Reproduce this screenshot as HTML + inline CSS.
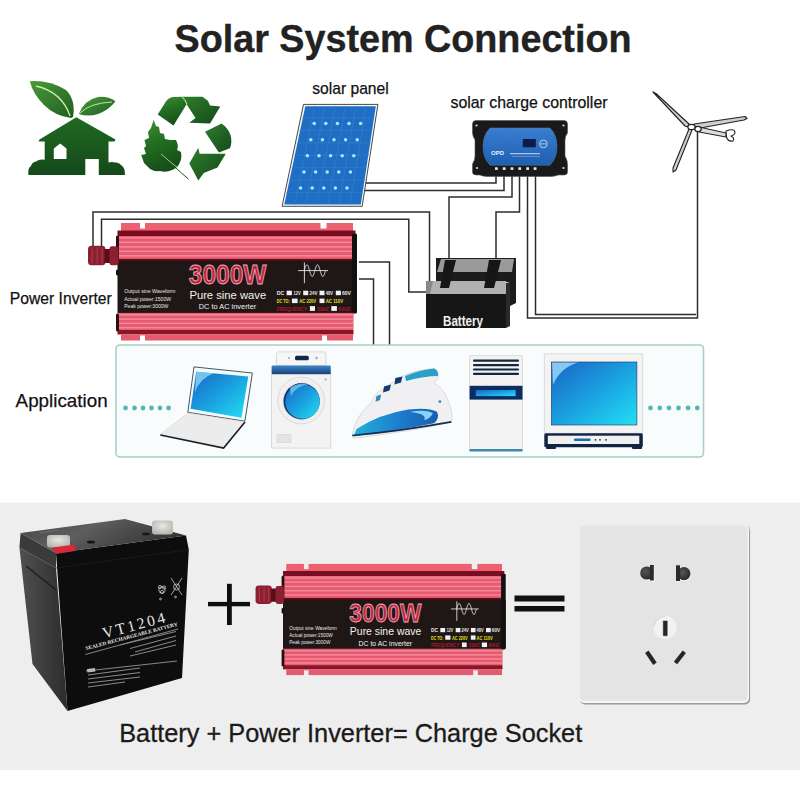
<!DOCTYPE html>
<html><head><meta charset="utf-8">
<style>
html,body{margin:0;padding:0;width:800px;height:800px;overflow:hidden;background:#ffffff;}
svg{display:block;}
text{font-family:"Liberation Sans",sans-serif;}
</style></head>
<body>
<svg width="800" height="800" viewBox="0 0 800 800">
<defs>
  <linearGradient id="ridge" x1="0" y1="0" x2="0" y2="1">
    <stop offset="0" stop-color="#f06a7c"/><stop offset="1" stop-color="#e85a6e"/>
  </linearGradient>
  <g id="inv">
    <rect x="3.5" y="1.5" width="232" height="8" fill="#ec6070"/>
    <rect x="22.5" y="0" width="5" height="7" style="fill:var(--bg)"/>
    <rect x="203" y="0" width="6" height="7" style="fill:var(--bg)"/>
    <rect x="0" y="9" width="238" height="5.5" fill="#7a0c22"/>
    <rect x="0" y="14.5" width="236" height="23.5" fill="#e55a6e"/>
    <rect x="0" y="15.50" width="236" height="1.6" fill="#f58898"/><rect x="0" y="20.00" width="236" height="1.6" fill="#f58898"/><rect x="0" y="24.50" width="236" height="1.6" fill="#f58898"/><rect x="0" y="29.00" width="236" height="1.6" fill="#f58898"/><rect x="0" y="33.50" width="236" height="1.6" fill="#f58898"/>
    <rect x="0" y="37.5" width="238" height="2.5" fill="#5a0a18"/>
    <rect x="0" y="39.5" width="239.5" height="51" fill="#1e1715"/>
    <rect x="234.5" y="12" width="5" height="80" rx="1.5" fill="#141010"/>
    <rect x="-1.5" y="48" width="3" height="6" rx="1.5" fill="#141010"/>
    <rect x="0" y="90.5" width="236" height="1.5" fill="#5a0a18"/>
    <rect x="0" y="92" width="236" height="16.5" fill="#e55a6e"/>
    <rect x="0" y="92.50" width="236" height="1.6" fill="#f58898"/><rect x="0" y="96.80" width="236" height="1.6" fill="#f58898"/><rect x="0" y="101.10" width="236" height="1.6" fill="#f58898"/><rect x="0" y="105.40" width="236" height="1.6" fill="#f58898"/>
    <rect x="0" y="108.5" width="236" height="4.5" fill="#8a1428"/>
    <rect x="3.5" y="113" width="232" height="6" fill="#e55a6e"/>
    <rect x="22.5" y="114" width="5" height="6" style="fill:var(--bg)"/>
    <rect x="204.5" y="114" width="5" height="6" style="fill:var(--bg)"/>
    <rect x="-1.5" y="14" width="3" height="24" rx="1.5" fill="#2a1010"/>
    <rect x="-1.5" y="92" width="3" height="18" rx="1.5" fill="#2a1010"/>
    <!-- knob -->
    <rect x="-29.5" y="24.3" width="17.5" height="19.5" rx="3.5" fill="#8a2030"/>
    <rect x="-26" y="26" width="1.2" height="16" fill="#a83848"/><rect x="-21" y="26" width="1.2" height="16" fill="#a83848"/><rect x="-16" y="26" width="1.2" height="16" fill="#a83848"/>
    <rect x="-13" y="27.5" width="6" height="14" fill="#5a0c18"/>
    <rect x="-8" y="24.8" width="9" height="19" rx="2.5" fill="#8a2030"/>
    <!-- text -->
    <text x="110.1" y="62.75" font-size="27" font-weight="bold" fill="#b8283f" stroke="#f2a6b6" stroke-width="0.9" text-anchor="middle" textLength="77.5" lengthAdjust="spacingAndGlyphs">3000W</text>
    <text x="110.3" y="77.1" font-size="11" fill="#f2f2f2" text-anchor="middle" textLength="76.8" lengthAdjust="spacingAndGlyphs">Pure sine wave</text>
    <text x="110" y="87.75" font-size="7.8" fill="#f2f2f2" text-anchor="middle" textLength="57.5" lengthAdjust="spacingAndGlyphs">DC to AC inverter</text>
    <g font-size="5.3" fill="#e8e8e8">
    <text x="6.7" y="71.6" textLength="51.2" lengthAdjust="spacingAndGlyphs">Output sine Waveform</text>
    <text x="6.7" y="79.1" textLength="46.8" lengthAdjust="spacingAndGlyphs">Actual power:1500W</text>
    <text x="6.7" y="86.5" textLength="44.2" lengthAdjust="spacingAndGlyphs">Peak power:3000W</text>
    </g>
    <!-- sine symbol -->
    <g stroke="#e8e8e8" stroke-width="0.9" fill="none">
      <line x1="180.6" y1="49.1" x2="210.6" y2="49.1"/>
      <line x1="186.9" y1="41" x2="186.9" y2="61.6"/>
      <polyline points="186.75,49.10 187.01,48.18 187.28,47.28 187.54,46.42 187.81,45.63 188.07,44.93 188.34,44.33 188.60,43.84 188.87,43.49 189.13,43.27 189.40,43.20 189.66,43.27 189.93,43.49 190.19,43.84 190.46,44.33 190.72,44.93 190.99,45.63 191.25,46.42 191.52,47.28 191.78,48.18 192.05,49.10 192.31,50.02 192.58,50.92 192.84,51.78 193.11,52.57 193.38,53.27 193.64,53.87 193.91,54.36 194.17,54.71 194.44,54.93 194.70,55.00 194.97,54.93 195.23,54.71 195.50,54.36 195.76,53.87 196.03,53.27 196.29,52.57 196.56,51.78 196.82,50.92 197.09,50.02 197.35,49.10 197.62,48.18 197.88,47.28 198.15,46.42 198.41,45.63 198.68,44.93 198.94,44.33 199.21,43.84 199.47,43.49 199.74,43.27 200.00,43.20 200.26,43.27 200.53,43.49 200.79,43.84 201.06,44.33 201.32,44.93 201.59,45.63 201.85,46.42 202.12,47.28 202.38,48.18 202.65,49.10 202.91,50.02 203.18,50.92 203.44,51.78 203.71,52.57 203.97,53.27 204.24,53.87 204.50,54.36 204.77,54.71 205.03,54.93 205.30,55.00 205.56,54.93 205.83,54.71 206.09,54.36 206.36,53.87 206.62,53.27 206.89,52.57 207.16,51.78 207.42,50.92 207.69,50.02 207.95,49.10"/>
    </g>
    <g font-size="5" font-weight="bold">
      <text x="159.25" y="73.7" fill="#e8e8e8" textLength="7.5" lengthAdjust="spacingAndGlyphs">DC</text>
      <text x="176.1" y="73.7" fill="#e8e8e8" textLength="7" lengthAdjust="spacingAndGlyphs">12V</text>
      <text x="191.9" y="73.7" fill="#e8e8e8" textLength="8" lengthAdjust="spacingAndGlyphs">24V</text>
      <text x="208.2" y="73.7" fill="#e8e8e8" textLength="7.5" lengthAdjust="spacingAndGlyphs">48V</text>
      <text x="224.5" y="73.7" fill="#e8e8e8" textLength="9" lengthAdjust="spacingAndGlyphs">60V</text>
      <text x="159.25" y="81.6" fill="#e6e020" textLength="13" lengthAdjust="spacingAndGlyphs">DC TO:</text>
      <text x="181.75" y="81.6" fill="#e6e020" textLength="16.8" lengthAdjust="spacingAndGlyphs">AC 220V</text>
      <text x="208.2" y="81.6" fill="#e6e020" textLength="17.4" lengthAdjust="spacingAndGlyphs">AC 110V</text>
      <text x="159.25" y="89.4" fill="#b01828" textLength="30.3" lengthAdjust="spacingAndGlyphs">FREQUENCY</text>
      <text x="199.75" y="89.4" fill="#b01828" textLength="11.8" lengthAdjust="spacingAndGlyphs">50HZ</text>
      <text x="221.1" y="89.4" fill="#b01828" textLength="11.8" lengthAdjust="spacingAndGlyphs">60HZ</text>
    </g>
    <g fill="#f2f2f2">
      <rect x="169.15" y="69.2" width="5.25" height="4.5"/><rect x="185.7" y="69.2" width="5.05" height="4.5"/>
      <rect x="202" y="69.2" width="5" height="4.5"/><rect x="218.3" y="69.2" width="5.1" height="4.5"/>
      <rect x="174.4" y="77.1" width="5.7" height="4.5"/><rect x="202" y="77.1" width="5" height="4.5"/>
      <rect x="192.4" y="84.6" width="5.1" height="4.8"/><rect x="213.8" y="84.6" width="5.6" height="4.8"/>
    </g>
  </g>
</defs>

<!-- bottom gray section -->

<rect x="0" y="770" width="800" height="30" fill="#ffffff"/>
<rect x="0" y="502.5" width="800" height="267.5" fill="#eeeeee"/>

<!-- title -->
<text x="403" y="52" font-size="39" font-weight="bold" fill="#222" stroke="#222" stroke-width="0.4" text-anchor="middle" textLength="457" lengthAdjust="spacingAndGlyphs">Solar System Connection</text>

<!-- labels -->
<text x="350.5" y="94" font-size="16.2" fill="#111" stroke="#111" stroke-width="0.25" text-anchor="middle" textLength="76.5" lengthAdjust="spacingAndGlyphs">solar panel</text>
<text x="529" y="108" font-size="16.2" fill="#111" stroke="#111" stroke-width="0.25" text-anchor="middle" textLength="157" lengthAdjust="spacingAndGlyphs">solar charge controller</text>
<text x="60.8" y="303.5" font-size="16.2" fill="#111" stroke="#111" stroke-width="0.25" text-anchor="middle" textLength="102" lengthAdjust="spacingAndGlyphs">Power Inverter</text>
<text x="61.6" y="407" font-size="19" fill="#111" stroke="#111" stroke-width="0.25" text-anchor="middle" textLength="92" lengthAdjust="spacingAndGlyphs">Application</text>

<!-- wires -->
<g stroke="#2c2c2c" stroke-width="1.5" fill="none">
  <polyline points="363,183 496,183 496,174"/>
  <polyline points="363,190.6 504,190.6 504,174"/>
  <polyline points="449,260 449,197 512,197 512,174"/>
  <polyline points="93,246 93,212 429.5,212 429.5,282"/>
  <polyline points="101.5,246 101.5,219.2 408.8,219.2 408.8,292 430,292"/>
  <polyline points="496,260 496,212 519.5,212 519.5,174"/>
  <polyline points="527.5,174 527.5,318 697.5,318 697.5,131.5"/>
  <polyline points="535.5,174 535.5,314.6 696,314.6"/>
  <polyline points="359,262 389.5,262 389.5,345"/>
  <polyline points="359,279 373.5,279 373.5,345"/>
</g>


<!-- house icon -->
<defs>
  <linearGradient id="gh" x1="0" y1="0" x2="0" y2="1"><stop offset="0" stop-color="#1f6a22"/><stop offset="1" stop-color="#15491a"/></linearGradient>
  <linearGradient id="gl" x1="0" y1="0" x2="1" y2="1"><stop offset="0" stop-color="#4a9a3c"/><stop offset="1" stop-color="#1f5e20"/></linearGradient>
</defs>
<path d="M76.3 117.2 L115.5 139.5 L114.5 141.5 L108.5 141.5 L108.5 162.5 Q112 161.5 115 162.5 Q119 162 121 165 Q125 167 125 175 L28.5 175 Q27.5 168 31 166 Q32 162 36 161.5 Q39 159 44.7 159.8 L44.7 141.5 L38.5 141.5 L39.5 139.5 Z M53.8 148.5 L53.8 159 L66.5 159 L66.5 148.5 L60.2 143.5 Z M85.3 159 L85.3 175 L98.8 175 L98.8 159 Z" fill="url(#gh)" fill-rule="evenodd"/>
<path d="M29.8 81.2 Q50 80 66 90 Q76 100 73 117 L71 118 Q55 116 44 105 Q33 94 29.8 81.2 Z" fill="url(#gl)"/>
<path d="M36 86 Q62 92 70 116" stroke="#c8f0a0" stroke-width="1.3" fill="none"/>
<path d="M79 114 Q84 100 98 97 Q108 96 115.5 101.3 Q109 110 98 114 Q88 117 79 114 Z" fill="url(#gl)"/>
<path d="M80 113 Q90 103 112 102" stroke="#b8e8a0" stroke-width="1" fill="none"/>

<!-- recycle icon -->
<defs>
  <linearGradient id="gr1" x1="0" y1="0" x2="0.3" y2="1"><stop offset="0" stop-color="#3f8f35"/><stop offset="0.5" stop-color="#236e22"/><stop offset="1" stop-color="#174f18"/></linearGradient>
  <linearGradient id="gr2" x1="0" y1="0" x2="1" y2="1"><stop offset="0" stop-color="#2f7f2c"/><stop offset="1" stop-color="#15481a"/></linearGradient>
</defs>
<g>
  <path d="M157.7,114.6 L165.9,101.5 Q168.5,97.6 173,97 L181.8,96.7 L186.6,104.3 L173.5,125.6 Z" fill="url(#gr1)"/>
  <polygon points="181.8,96.7 202.4,96.7 207.9,100.8 210,105.6 220.3,106.5 210,123.5 189.3,122.8 195.5,118 186.6,104.3" fill="url(#gr2)"/>
  <path d="M205,131.8 L221.6,123.5 Q228,128 230.5,135 Q232.5,142 229.9,148.3 L218.9,152.4 Z" fill="url(#gr2)"/>
  <polygon points="189.3,163.6 198.3,147.8 199.6,153.8 225.8,153.8 217.5,167.5 203.8,173 198.3,180.5" fill="url(#gr2)"/>
  <path d="M153.6,120 L156,126 L159,127 L160,133 L164,134 L165,139 L170,140 L176,140 Q179,146 177,150 L181,152 Q182,158 180,162 Q178,168 172,170 Q166,173 160,171 Q152,172 148,167 L144,163 L141.2,155 L146,154 L144,148 L146,146 L144.5,140 L149,138 L148,132 L151,128 Z" fill="url(#gr1)"/>
</g>
<path d="M161 153.8 Q172 165 188.6 179.2" stroke="#1f5a1c" stroke-width="1" fill="none"/>
<path d="M161 153.8 Q170 162 178 168" stroke="#b8e8a0" stroke-width="0.8" fill="none"/>
<path d="M181.8 96.7 Q186 99.5 187 104.3" stroke="#d0f4b8" stroke-width="0.9" fill="none"/>
<path d="M218.9 152.4 L225.8 153.8" stroke="#d0f4b8" stroke-width="0.7" fill="none"/>
<!-- solar panel -->
<polygon points="303.5,104.4 377.9,104.4 362.2,206.3 282.1,206.3" fill="#f4f8fc" stroke="#333" stroke-width="0.9"/>
<polygon points="305.3,106.3 375.8,106.3 360.8,204.5 284.3,204.5" fill="#1f6ec4"/>
<g stroke="#3a86d0" stroke-width="0.5"><line x1="314.8" y1="105.5" x2="294.6" y2="205"/><line x1="325.1" y1="105.5" x2="305.6" y2="205"/><line x1="335.4" y1="105.5" x2="316.7" y2="205"/><line x1="345.6" y1="105.5" x2="327.8" y2="205"/><line x1="355.9" y1="105.5" x2="338.9" y2="205"/><line x1="366.2" y1="105.5" x2="349.9" y2="205"/><line x1="301.9" y1="117.9" x2="374.6" y2="117.9"/><line x1="299.2" y1="130.4" x2="372.6" y2="130.4"/><line x1="296.6" y1="142.8" x2="370.7" y2="142.8"/><line x1="294.0" y1="155.2" x2="368.8" y2="155.2"/><line x1="291.4" y1="167.7" x2="366.8" y2="167.7"/><line x1="288.8" y1="180.1" x2="364.9" y2="180.1"/><line x1="286.1" y1="192.6" x2="362.9" y2="192.6"/></g>
<g fill="#9aeeff"><circle cx="314.2" cy="123.6" r="1.75"/><circle cx="325.8" cy="123.6" r="1.75"/><circle cx="337.4" cy="123.6" r="1.75"/><circle cx="349.0" cy="123.6" r="1.75"/><circle cx="360.6" cy="123.6" r="1.75"/><circle cx="310.8" cy="139.7" r="1.75"/><circle cx="322.4" cy="139.7" r="1.75"/><circle cx="334.0" cy="139.7" r="1.75"/><circle cx="345.6" cy="139.7" r="1.75"/><circle cx="357.2" cy="139.7" r="1.75"/><circle cx="307.4" cy="155.8" r="1.75"/><circle cx="319.0" cy="155.8" r="1.75"/><circle cx="330.6" cy="155.8" r="1.75"/><circle cx="342.2" cy="155.8" r="1.75"/><circle cx="353.8" cy="155.8" r="1.75"/><circle cx="304.0" cy="171.9" r="1.75"/><circle cx="315.6" cy="171.9" r="1.75"/><circle cx="327.2" cy="171.9" r="1.75"/><circle cx="338.8" cy="171.9" r="1.75"/><circle cx="350.4" cy="171.9" r="1.75"/><circle cx="300.6" cy="188.0" r="1.75"/><circle cx="312.2" cy="188.0" r="1.75"/><circle cx="323.8" cy="188.0" r="1.75"/><circle cx="335.4" cy="188.0" r="1.75"/><circle cx="347.0" cy="188.0" r="1.75"/></g>

<!-- controller -->
<path d="M476 120.5 L564 120.5 Q567.5 120.5 567.5 124 L567.5 133 Q565 136 565 140 L565 156 Q567.5 160 567.5 164 L567.5 172 Q567.5 175 564 175 L558 175 Q555 176.5 548 176.5 L490 176.5 Q483 176.5 480 175 L476 175 Q472.5 175 472.5 172 L472.5 164 Q475 160 475 156 L475 140 Q472.5 136 472.5 133 L472.5 124 Q472.5 120.5 476 120.5 Z" fill="#1a1a1c" stroke="#555" stroke-width="0.6"/>
<circle cx="476.5" cy="125.5" r="1.1" fill="#ddd"/><circle cx="563.5" cy="125.5" r="1.1" fill="#ddd"/>
<circle cx="477" cy="168" r="1.1" fill="#ddd"/><circle cx="563.5" cy="168" r="1.1" fill="#ddd"/>
<defs><linearGradient id="cb" x1="0" y1="0" x2="0" y2="1"><stop offset="0" stop-color="#3a7ed0"/><stop offset="1" stop-color="#1d5fb0"/></linearGradient></defs>
<path d="M490 128 L550 128 Q557 135 557 146.6 Q557 158 550 165.2 L490 165.2 Q483 158 483 146.6 Q483 135 490 128 Z" fill="url(#cb)" stroke="#5a7aa0" stroke-width="0.5"/>
<rect x="522.8" y="139" width="13" height="8.3" fill="#0e1c4a"/>
<circle cx="543.4" cy="143.9" r="3.8" fill="none" stroke="#e0e8f0" stroke-width="0.8"/>
<line x1="540.5" y1="143.9" x2="546.3" y2="143.9" stroke="#e0e8f0" stroke-width="0.7"/>
<text x="491" y="155" font-size="6" font-weight="bold" fill="#e8f0ff">OPD</text>
<rect x="510" y="153" width="30" height="1.3" fill="#a8c0e8"/>
<rect x="512" y="156" width="28" height="0.8" fill="#7a9ad0"/>
<g fill="#e8e8e8">
<rect x="495" y="167.3" width="2.8" height="2.6"/><rect x="502.8" y="167.3" width="2.8" height="2.6"/>
<rect x="510.6" y="167.3" width="2.8" height="2.6"/><rect x="518.3" y="167.3" width="2.8" height="2.6"/>
<rect x="526.2" y="167.3" width="2.8" height="2.6"/><rect x="533.7" y="167.3" width="2.8" height="2.6"/>
</g>

<!-- wind turbine -->
<g stroke="#222" stroke-linejoin="round">
  <polygon points="653,92 656,93.5 689,124 688,127 685,126" fill="#cfcfcf" stroke-width="1.1"/>
  <polygon points="694,124 745,116.5 747,118.5 744,120 695,129" fill="#cfcfcf" stroke-width="1.1"/>
  <polygon points="689,129 692,130 676,170 673,172 673,168" fill="#cfcfcf" stroke-width="1.1"/>
  <polygon points="699,127 726,133 726,137 699,132" fill="#ddd" stroke-width="1"/>
  <path d="M726 131 Q734 128 735 132 Q735 135 731 136 Q735 138 733 141 Q728 142 726.5 137 Z" fill="#fff" stroke-width="1.1"/>
  <ellipse cx="691.5" cy="127" rx="3.6" ry="2.7" fill="#fff" stroke-width="1.2"/>
  <ellipse cx="698" cy="129" rx="3.2" ry="2.6" fill="#fff" stroke-width="1.2"/>
</g>

<!-- top battery -->
<polygon points="436,258 516,258 516,303 510,306 510,282 436,282" fill="#1c1c1c"/>
<polygon points="441,259 514,259 512,272 437,272" fill="#9a9a9a"/>
<polygon points="426,294 429,281 506,281 506,294" fill="#b0b0b0"/>
<polygon points="426,294 506,294 506,328 426,328" fill="#161616"/>
<polygon points="506,283 510,282 510,326 506,328" fill="#2a2a2a"/>
<polygon points="426,281 433,281 430,294 426,294" fill="#888"/>
<polygon points="445,260 456,260 449,288 440,288" fill="#161616"/>
<polygon points="489,260 501,260 494,288 484,288" fill="#161616"/>
<text x="463" y="325.5" font-size="14" font-weight="bold" fill="#f0f0f0" text-anchor="middle" textLength="40" lengthAdjust="spacingAndGlyphs">Battery</text>

<!-- top inverter -->
<use href="#inv" transform="translate(117.5,221.5)" style="--bg:#ffffff"/>

<!-- application box -->
<rect x="116" y="345" width="587.5" height="112" rx="4" fill="#f9fcfc" stroke="#a9cfc4" stroke-width="1.6"/>


<!-- application icons -->
<defs>
  <linearGradient id="scr" x1="0" y1="0" x2="1" y2="1"><stop offset="0" stop-color="#1a64c4"/><stop offset="0.5" stop-color="#1aa0e0"/><stop offset="1" stop-color="#22e0f4"/></linearGradient>
  <linearGradient id="lid" x1="0" y1="0" x2="0" y2="1"><stop offset="0" stop-color="#3f86c6"/><stop offset="1" stop-color="#143e78"/></linearGradient>
  <linearGradient id="sole" x1="0" y1="0" x2="1" y2="0"><stop offset="0" stop-color="#22b0d8"/><stop offset="0.6" stop-color="#1c78cc"/><stop offset="1" stop-color="#1a5eb0"/></linearGradient>
</defs>
<g fill="#58b6b2">
  <circle cx="125.5" cy="408" r="2.4"/><circle cx="134.5" cy="408" r="2.4"/><circle cx="143" cy="408" r="2.4"/>
  <circle cx="151.5" cy="408" r="2.4"/><circle cx="160" cy="408" r="2.4"/><circle cx="168.6" cy="408" r="2.4"/>
  <circle cx="650.5" cy="408" r="2.4"/><circle cx="659.8" cy="408" r="2.4"/><circle cx="669" cy="408" r="2.4"/>
  <circle cx="678.5" cy="408" r="2.4"/><circle cx="688" cy="408" r="2.4"/><circle cx="697.3" cy="408" r="2.4"/>
</g>
<!-- laptop -->
<polygon points="194,366.9 252.4,373 244.9,421.2 187.8,412.3" fill="#f2fafc" stroke="#1c2c3c" stroke-width="0.8"/>
<polygon points="196.2,371.7 248.3,376.5 241.4,417.8 190.6,408.8" fill="url(#scr)"/>
<path d="M196.2 371.7 L214 373.3 Q200 378 195 392 Z" fill="#8ad8f4" opacity="0.8"/>
<polygon points="187.8,413 244.9,421.9 223.6,447 160.3,434.5" fill="#ececec" stroke="#ccc" stroke-width="0.5"/>
<polyline points="160.3,435 223.6,448 245,422" fill="none" stroke="#1a1f28" stroke-width="1.6"/>
<!-- washer -->
<rect x="276.4" y="351.9" width="49.5" height="14" rx="2" fill="#f6f6f6" stroke="#cfcfcf" stroke-width="0.8"/>
<rect x="295" y="355.8" width="13.8" height="4.4" rx="1.5" fill="#12284a"/>
<circle cx="289" cy="358" r="1" fill="#9aa"/><circle cx="316.5" cy="358" r="1.2" fill="#9aa"/>
<rect x="271.6" y="365.6" width="59.2" height="9" rx="1" fill="url(#lid)"/>
<rect x="271.6" y="374.6" width="59.2" height="73.5" fill="#f3f3f3" stroke="#d2d2d2" stroke-width="0.8"/>
<circle cx="301.2" cy="400.5" r="23.4" fill="#efefef" stroke="#d6d6d6" stroke-width="0.8"/>
<circle cx="301.6" cy="401.2" r="18.2" fill="#1a3d78"/>
<circle cx="302.6" cy="401.6" r="17.2" fill="url(#scr)"/>
<path d="M290 388 Q298 382 309 384 Q296 386 291 396 Z" fill="#7ad4f4" opacity="0.7"/>
<rect x="277" y="434.4" width="14" height="8.2" fill="#e4e4e4" stroke="#d0d0d0" stroke-width="0.5"/>
<circle cx="325.5" cy="379.5" r="1.2" fill="#bbb"/>
<!-- iron -->
<path d="M352.2 434.8 Q356 415 370.9 403 Q374 396 378 392 L405.4 374.4 Q420 369 434.1 368.6 Q439 370 438.4 377.3 L434.1 383 Q443 388 447 398 Q452.5 410 452.1 418 L451.4 421.8 Q420 430 353.6 438.3 Z" fill="#f0f0f2" stroke="#d4d4d8" stroke-width="0.8"/>
<path d="M356.5 429 Q380 414 408.3 409.6 Q428 407 437 411.8 Q440 418 434.1 423.3 Q400 430 353.6 436.5 Z" fill="url(#sole)"/>
<path d="M410 412 Q425 409 433 413 Q430 419 424 420 Q428 414 410 412 Z" fill="#8ad4f4"/>
<path d="M352.2 435.5 Q400 431 451.4 421.8" fill="none" stroke="#162c50" stroke-width="1.7"/>
<path d="M405 376 Q420 370 434 368.6 Q438.5 370 438 376 Q425 376 406 381 Z" fill="#2aa0c8"/>
<polygon points="395.3,378 402.5,376.5 401,382.5 394.5,384.5" fill="#153a70"/>
<polygon points="384,386.5 391,384.4 389.5,390.5 383,392.5" fill="#153a70"/>
<polygon points="376.5,396 381,394.5 380,400 375.5,401.7" fill="#2a8ab0"/>
<circle cx="439.9" cy="401.7" r="1.4" fill="#3a9090"/>
<!-- AC -->
<rect x="469.6" y="355.6" width="52.9" height="95.5" fill="#f3f3f3" stroke="#d6d6d6" stroke-width="0.8"/>
<g fill="#12283c">
  <rect x="473" y="359.6" width="46" height="2.1" rx="1"/><rect x="473" y="364.1" width="46" height="2.1" rx="1"/>
  <rect x="473" y="368.5" width="46" height="2.1" rx="1"/><rect x="473" y="372.8" width="46" height="2.1" rx="1"/>
</g>
<rect x="469.6" y="385.8" width="52.9" height="13.8" fill="#0e2c62"/>
<rect x="475.8" y="390" width="39.8" height="6.1" fill="url(#scr)"/>
<rect x="469.6" y="449" width="52.9" height="2.4" fill="#3a8aa8"/>
<!-- TV -->
<rect x="544.3" y="353.8" width="98.5" height="79.5" fill="#f3f3f3" stroke="#d4d4d4" stroke-width="0.8"/>
<rect x="551.4" y="362" width="85.5" height="63" fill="url(#scr)" stroke="#1a3460" stroke-width="0.6"/>
<path d="M552 362.6 L578 362.6 Q560 368 553 385 Z" fill="#9ad8f4" opacity="0.85"/>
<rect x="544.3" y="433.3" width="98.5" height="14" rx="1.5" fill="#122444"/>
<rect x="547.8" y="435.7" width="91.5" height="8.3" fill="#f0f0f0"/>
<rect x="574" y="438.6" width="16.6" height="2.4" rx="1" fill="#1a6ab0"/>
<circle cx="595.5" cy="439.8" r="0.9" fill="#1a3060"/><circle cx="600" cy="439.8" r="0.9" fill="#1a3060"/><circle cx="606" cy="439.8" r="0.9" fill="#1a3060"/>
<rect x="546" y="446" width="10" height="3" rx="1" fill="#122444"/><rect x="632" y="446" width="10" height="3" rx="1" fill="#122444"/>


<!-- bottom battery -->
<defs>
  <linearGradient id="btop" x1="0" y1="0" x2="1" y2="0.4"><stop offset="0" stop-color="#454545"/><stop offset="0.45" stop-color="#5e5e5e"/><stop offset="1" stop-color="#333"/></linearGradient>
  <linearGradient id="bleft" x1="0" y1="0" x2="1" y2="0"><stop offset="0" stop-color="#505050"/><stop offset="1" stop-color="#2c2c2c"/></linearGradient>
  <radialGradient id="term" cx="0.5" cy="0.4" r="0.6"><stop offset="0" stop-color="#e8e8e4"/><stop offset="1" stop-color="#b8b8b0"/></radialGradient>
</defs>
<polygon points="19.4,547.5 56,568 67.5,711 32.5,664" fill="url(#bleft)"/>
<polygon points="20.6,533 56,553 56,568 19.4,547.5" fill="#3a3a3a"/>
<line x1="26" y1="566" x2="56" y2="590" stroke="#1a1a1a" stroke-width="1.2"/>
<polygon points="56,553 186,535.5 188.8,549.8 182,678 67.5,711" fill="#0d0d0d"/>
<polygon points="20.6,533 125,519 186,535.5 56,553" fill="url(#btop)"/>
<line x1="56" y1="568" x2="188" y2="549.8" stroke="#1e1e1e" stroke-width="0.8"/>
<!-- terminals -->
<rect x="47" y="535" width="23" height="12.5" rx="3" fill="url(#term)"/>
<polygon points="52.5,547.5 75,544.5 75,551 56,554" fill="#d8283a"/>
<rect x="152" y="520.5" width="21" height="14" rx="3" fill="url(#term)"/>
<ellipse cx="91" cy="542" rx="4" ry="1.5" fill="#151515"/>
<ellipse cx="146" cy="534" rx="4" ry="1.3" fill="#151515"/>
<rect x="40" y="532" width="20" height="1.6" fill="#666" transform="rotate(-8 40 532)"/>
<!-- label -->
<g fill="#e8e8e8">
  <text x="104" y="638.5" style="font-family:'Liberation Serif',serif" font-size="15.5" textLength="64" lengthAdjust="spacing" transform="rotate(-14.8 104 638.5)">VT1204</text>
  <text x="86.1" y="650.1" style="font-family:'Liberation Serif',serif" font-size="5" font-weight="bold" transform="rotate(-14.9 86.1 650.1)" textLength="95" lengthAdjust="spacingAndGlyphs">SEALED RECHARGEABLE BATTERY</text>
</g>
<g stroke="#d8d8d8" stroke-width="0.6" fill="none">
  <line x1="85.3" y1="654.5" x2="178" y2="629"/>
  <line x1="86" y1="671" x2="177" y2="661"/>
</g>
<g stroke="#8a8a8a" stroke-width="1" fill="none">
  <line x1="120" y1="645" x2="176" y2="631.5"/>
  <line x1="130" y1="648.5" x2="176" y2="636"/>
  <line x1="135" y1="652" x2="176" y2="640.5"/>
  <line x1="130" y1="656" x2="176" y2="645"/>
  <line x1="88" y1="675" x2="140" y2="668"/>
  <line x1="88" y1="679" x2="140" y2="672.5"/>
  <line x1="88" y1="683" x2="140" y2="677"/>
  <line x1="88" y1="687" x2="125" y2="682"/>
</g>
<rect x="87" y="669" width="8" height="3.5" fill="#bbb" transform="rotate(-7 87 669)"/>
<g stroke="#e0e0e0" stroke-width="0.7" fill="none">
  <circle cx="162" cy="590" r="3.2"/><circle cx="160" cy="587" r="1.6"/><circle cx="164" cy="587.5" r="1.6"/><circle cx="162" cy="592" r="1.6"/>
  <line x1="171" y1="578" x2="182" y2="595"/><line x1="182" y1="578" x2="171" y2="595"/>
  <circle cx="176.5" cy="587" r="3"/>
  <circle cx="160.5" cy="599" r="0.9"/><circle cx="175.5" cy="597" r="0.9"/>
</g>

<!-- socket -->
<defs>
  <radialGradient id="hole" cx="0.4" cy="0.4" r="0.7"><stop offset="0" stop-color="#555"/><stop offset="1" stop-color="#262626"/></radialGradient>
</defs>
<rect x="579" y="524.5" width="171.5" height="180" rx="5.5" fill="#e6e6e6"/>
<rect x="580" y="526" width="170" height="178.5" rx="5" fill="#9c9c9c"/>
<rect x="579" y="525" width="170" height="178" rx="5" fill="#f6f6f6"/>
<rect x="579.5" y="525.5" width="168" height="175.5" rx="4.5" fill="#e4e4e4"/>
<circle cx="647.3" cy="573.8" r="6.8" fill="#fafafa"/><rect x="650.5" y="566" width="4" height="15.5" fill="#fafafa"/>
<circle cx="646.8" cy="573" r="6.6" fill="url(#hole)"/>
<rect x="650" y="565" width="3.8" height="15.5" fill="#2a2a2a"/>
<circle cx="684.3" cy="574.5" r="6.8" fill="#fafafa"/><rect x="676.5" y="566" width="4" height="15.5" fill="#fafafa"/>
<circle cx="683.9" cy="573.7" r="6.6" fill="url(#hole)"/>
<rect x="676" y="565.3" width="4" height="15.7" fill="#2a2a2a"/>
<circle cx="665" cy="627.5" r="11.5" fill="#f2f2f2"/>
<path d="M654 627.5 A11 11 0 0 1 665 616.5" fill="none" stroke="#d8d8d8" stroke-width="1.2"/>
<rect x="662.8" y="620.4" width="5" height="15.8" rx="0.8" fill="#262626" stroke="#fff" stroke-width="0.5"/>
<line x1="646.8" y1="651.8" x2="655" y2="663.8" stroke="#262626" stroke-width="4.2" stroke-linecap="butt"/>
<line x1="684.3" y1="651.8" x2="675.5" y2="663" stroke="#262626" stroke-width="4.2" stroke-linecap="butt"/>

<!-- bottom inverter -->
<use href="#inv" transform="translate(283,562.5) scale(0.93,0.946)" style="--bg:#eeeeee"/>

<!-- plus and equal -->
<rect x="208" y="601.9" width="42" height="4.4" fill="#0e0e0e"/>
<rect x="227" y="583.8" width="4.8" height="41.2" fill="#0e0e0e"/>
<rect x="514.5" y="595.5" width="50" height="6" fill="#111"/>
<rect x="514.5" y="606" width="50" height="5.5" fill="#111"/>

<text x="350.7" y="742" font-size="25" fill="#1a1a1a" stroke="#1a1a1a" stroke-width="0.3" text-anchor="middle" textLength="463" lengthAdjust="spacingAndGlyphs">Battery + Power Inverter= Charge Socket</text>
</svg>
</body></html>
